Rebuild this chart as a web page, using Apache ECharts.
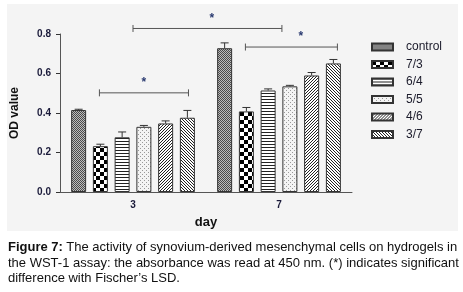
<!DOCTYPE html>
<html>
<head>
<meta charset="utf-8">
<script src="https://cdn.jsdelivr.net/npm/echarts@6/dist/echarts.min.js"></script>
<style>
  body { margin: 0; background: #fff; }
  #panel { position: absolute; left: 7px; top: 4px; width: 451px; height: 227px; background: #f4f4f4; }
  #chart { position: absolute; left: 0; top: 0; width: 463px; height: 292px; }
  #caption { position: absolute; left: 8px; top: 239px; width: 455px; font: 13px 'Liberation Sans', Arial, sans-serif; line-height: 15.5px; color: #111; }
</style>
</head>
<body>
<div id="panel"></div>
<div id="chart"></div>
<div id="caption"><b>Figure 7:</b> The activity of synovium-derived mesenchymal cells on hydrogels in the WST-1 assay: the absorbance was read at 450 nm. (*) indicates significant difference with Fischer’s LSD.</div>
<script>
  // 数据
  var days = ['3', '7'];
  var groups = ['control', '7/3', '6/4', '5/5', '4/6', '3/7'];
  // 每组在 day3 / day7 的均值
  var means = [
    [0.415, 0.728],
    [0.232, 0.408],
    [0.277, 0.514],
    [0.330, 0.535],
    [0.347, 0.590],
    [0.376, 0.651]
  ];
  // 误差 (上半)
  var errs = [
    [0.004, 0.027],
    [0.010, 0.020],
    [0.027, 0.008],
    [0.007, 0.005],
    [0.013, 0.015],
    [0.037, 0.020]
  ];
  var yTicks = [0, 0.2, 0.4, 0.6, 0.8];
  // 显著性括号: [起点x, 终点x, y, 星号x]  (x 以 day 序号为单位)
  var brackets = [
    [0.0, 1.02, 0.828, 0.54],
    [0.77, 1.40, 0.734, 1.15],
    [-0.23, 0.38, 0.502, 0.075]
  ];

  var BAR_W = 15, BAR_GAP = 0.45;

  // 填充图案
  function tile(w, h, bg, fg, rects) {
    var c = document.createElement('canvas');
    c.width = w; c.height = h;
    var g = c.getContext('2d');
    g.fillStyle = bg; g.fillRect(0, 0, w, h);
    g.fillStyle = fg;
    rects.forEach(function (r) { g.fillRect(r[0], r[1], r[2] || 1, r[3] || 1); });
    return { image: c, repeat: 'repeat' };
  }
  var patterns = [
    tile(2, 2, '#bcbcbc', '#4a4a4a', [[0, 0], [1, 1]]),
    tile(8, 8, '#fff', '#000', [[0, 0, 4, 4], [4, 4, 4, 4]]),
    tile(3, 3, '#fff', '#222', [[0, 0, 3, 1]]),
    tile(4, 4, '#f4f4f4', '#999', [[0, 0], [2, 2]]),
    tile(3, 3, '#fff', '#222', [[2, 0], [1, 1], [0, 2]]),
    tile(3, 3, '#fff', '#222', [[0, 0], [1, 1], [2, 2]])
  ];

  var series = [];
  groups.forEach(function (name, i) {
    series.push({
      type: 'bar',
      name: name,
      data: means[i],
      barWidth: BAR_W,
      barGap: (BAR_GAP * 100) + '%',
      itemStyle: { color: patterns[i], borderColor: '#333', borderWidth: 1 },
      emphasis: { disabled: true }
    });
  });

  var errData = [];
  groups.forEach(function (name, i) {
    days.forEach(function (d, j) {
      errData.push([j, means[i][j], errs[i][j], i]);
    });
  });
  series.push({
    type: 'custom',
    name: 'err',
    xAxisIndex: 0,
    encode: { x: 0, y: 1 },
    data: errData,
    z: 5,
    renderItem: function (params, api) {
      var p = api.coord([api.value(0), api.value(1)]);
      var q = api.coord([api.value(0), api.value(1) + api.value(2)]);
      var x = p[0] + (api.value(3) - 2.5) * BAR_W * (1 + BAR_GAP);
      var st = { stroke: '#333', lineWidth: 1 };
      return {
        type: 'group',
        children: [
          { type: 'line', shape: { x1: x, y1: p[1], x2: x, y2: q[1] }, style: st },
          { type: 'line', shape: { x1: x - 4, y1: q[1], x2: x + 4, y2: q[1] }, style: st }
        ]
      };
    }
  });

  series.push({
    type: 'custom',
    name: 'sig',
    xAxisIndex: 1,
    clip: false,
    encode: { x: 0, y: 2 },
    data: brackets,
    z: 5,
    renderItem: function (params, api) {
      var a = api.coord([api.value(0), api.value(2)]);
      var b = api.coord([api.value(1), api.value(2)]);
      var s = api.coord([api.value(3), api.value(2)]);
      var st = { stroke: '#555', lineWidth: 1 };
      return {
        type: 'group',
        children: [
          { type: 'line', shape: { x1: a[0], y1: a[1], x2: b[0], y2: b[1] }, style: st },
          { type: 'line', shape: { x1: a[0], y1: a[1] - 3.5, x2: a[0], y2: a[1] + 3.5 }, style: st },
          { type: 'line', shape: { x1: b[0], y1: b[1] - 3.5, x2: b[0], y2: b[1] + 3.5 }, style: st },
          { type: 'text', style: { text: '*', x: s[0], y: s[1] - 4, align: 'center', verticalAlign: 'bottom', fill: '#2a3a70', font: 'bold 12px Liberation Sans' } }
        ]
      };
    }
  });

  var myChart = echarts.init(document.getElementById('chart'));
  myChart.setOption({
    animation: false,
    textStyle: { fontFamily: 'Liberation Sans' },
    grid: { left: 60, right: 111, top: 34, bottom: 100 },
    legend: {
      data: groups,
      orient: 'vertical',
      left: 371,
      top: 41,
      padding: 0,
      itemWidth: 21,
      itemHeight: 7,
      itemGap: 5.5,
      icon: 'rect',
      selectedMode: false,
      textStyle: { fontSize: 12, lineHeight: 12, color: '#1a1a2a', padding: [0, 0, 0, 8] }
    },
    xAxis: [{
      type: 'category',
      data: days,
      name: 'day',
      nameLocation: 'middle',
      nameGap: 24,
      nameTextStyle: { fontSize: 13, fontWeight: 'bold', color: '#111' },
      axisLine: { lineStyle: { color: '#555' } },
      axisTick: { alignWithLabel: true, length: 4, lineStyle: { color: '#333' } },
      axisLabel: { fontSize: 10, fontWeight: 'bold', color: '#1a1a3a', margin: 8 }
    }, {
      type: 'value',
      min: -0.5,
      max: 1.5,
      show: false
    }],
    yAxis: {
      type: 'value',
      min: 0,
      max: 0.8,
      interval: 0.2,
      name: 'OD value',
      nameLocation: 'middle',
      nameGap: 39,
      nameTextStyle: { fontSize: 12, fontWeight: 'bold', color: '#111' },
      axisLine: { show: true, onZero: false, lineStyle: { color: '#555' } },
      axisTick: { show: true, length: 4, lineStyle: { color: '#333' } },
      splitLine: { show: false },
      axisLabel: {
        fontSize: 10, fontWeight: 'bold', color: '#1a1a3a', margin: 9,
        customValues: yTicks,
        formatter: function (v) { return v.toFixed(1); }
      }
    },
    series: series
  });
</script>
</body>
</html>
